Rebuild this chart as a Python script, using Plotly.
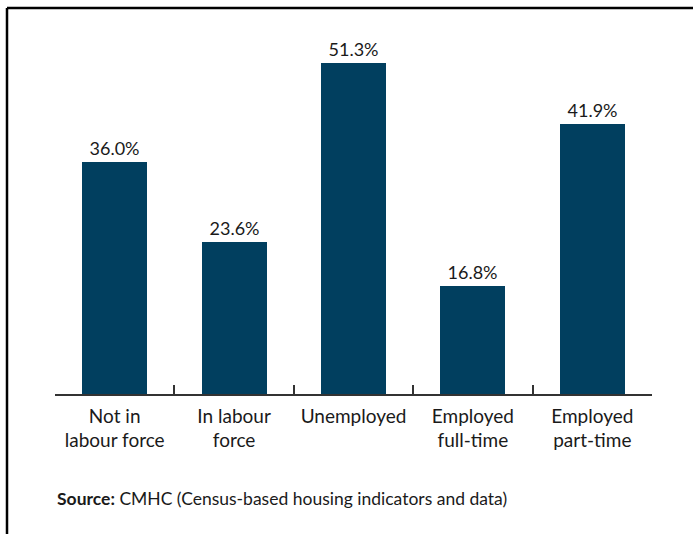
import plotly.graph_objects as go

categories = ["Not in<br>labour force", "In labour<br>force", "Unemployed", "Employed<br>full-time", "Employed<br>part-time"]
values = [36.0, 23.6, 51.3, 16.8, 41.9]
labels = ["36.0%", "23.6%", "51.3%", "16.8%", "41.9%"]

FONT = "Lato, 'Open Sans', sans-serif"
W, H = 693, 534
L, R, T, B = 55, 41, 20, 140
pw, ph = W - L - R, H - T - B

def px(x):
    return (x - L) / pw

def py(y):
    return (H - B - y) / ph

fig = go.Figure(go.Bar(
    x=categories, y=values, text=labels, textposition="outside",
    textfont=dict(family=FONT, size=18, color="#1a1a1a"),
    marker=dict(color="#013f5f", line=dict(width=0)),
    width=0.545, cliponaxis=False,
))

fig.update_layout(
    width=W, height=H, margin=dict(l=L, r=R, t=T, b=B),
    paper_bgcolor="white", plot_bgcolor="white", showlegend=False,
    font=dict(family=FONT, color="#1a1a1a"),
    xaxis=dict(showline=True, linecolor="#333333", linewidth=1.5,
               ticks="inside", ticklen=9, tickcolor="#333333", tickwidth=1.5,
               tickson="boundaries", tickfont=dict(size=19, family=FONT, color="#1a1a1a"),
               ticklabelstandoff=4, range=[-0.5, 4.5]),
    yaxis=dict(visible=False, range=[0, (H - B - T) / 6.45], fixedrange=True),
    bargap=0.0,
)

fig.add_shape(type="line", xref="paper", yref="paper",
              x0=px(7), x1=px(W + 5), y0=py(8), y1=py(8),
              line=dict(color="black", width=2.5))
fig.add_shape(type="line", xref="paper", yref="paper",
              x0=px(7), x1=px(7), y0=py(8), y1=py(H + 5),
              line=dict(color="black", width=2.5))

fig.add_annotation(xref="paper", yref="paper", x=0, y=py(498),
                   xanchor="left", yanchor="middle", showarrow=False,
                   text="<b>Source:</b> CMHC (Census-based housing indicators and data)",
                   font=dict(family=FONT, size=17.5, color="#1a1a1a"))

fig.write_html("out.html")
